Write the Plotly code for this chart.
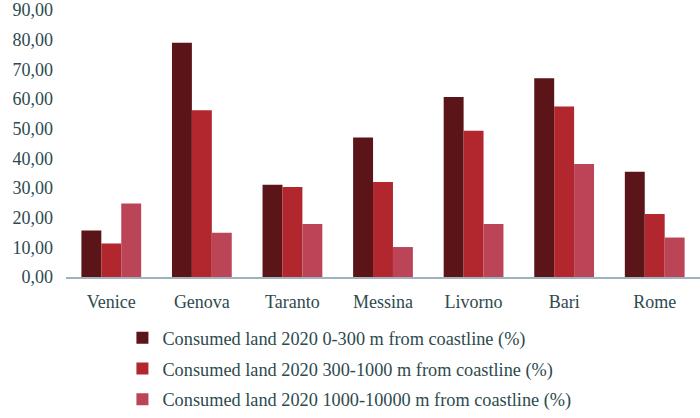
import plotly.graph_objects as go

# Coastal cities and share of consumed land by distance band from the coastline
cities = ["Venice", "Genova", "Taranto", "Messina", "Livorno", "Bari", "Rome"]
band_0_300 = [15.7, 79.0, 31.1, 47.0, 60.7, 67.0, 35.5]
band_300_1000 = [11.3, 56.2, 30.3, 32.0, 49.3, 57.5, 21.2]
band_1000_10000 = [24.8, 14.9, 17.9, 10.1, 17.9, 38.1, 13.3]

series_names = [
    "Consumed land 2020 0-300 m from coastline (%)",
    "Consumed land 2020 300-1000 m from coastline (%)",
    "Consumed land 2020 1000-10000 m from coastline (%)",
]
series_values = [band_0_300, band_300_1000, band_1000_10000]
series_colors = ["#5b1418", "#b2262d", "#bb4456"]

y_ticks = [0, 10, 20, 30, 40, 50, 60, 70, 80, 90]

text_color = "#2d4a4e"
serif = "Liberation Serif, Times New Roman, serif"

# one legend box per series so the rows can be spaced evenly
legend_ids = ["legend", "legend2", "legend3"]
legend_rows_y = [-0.228, -0.343, -0.458]

fig = go.Figure()
for name, vals, color, lid in zip(series_names, series_values, series_colors, legend_ids):
    fig.add_trace(go.Bar(
        x=cities, y=vals, name=name, legend=lid,
        marker=dict(color=color, line=dict(width=0)),
    ))

legend_style = dict(
    x=0.089,
    xanchor="left",
    yanchor="middle",
    font=dict(family=serif, size=18.3, color=text_color),
    itemwidth=30,
    bgcolor="rgba(0,0,0,0)",
)

fig.update_layout(
    width=700,
    height=418,
    barmode="group",
    bargap=0.34,
    bargroupgap=0,
    separators=",.",
    paper_bgcolor="white",
    plot_bgcolor="white",
    margin=dict(l=66, r=0, t=8, b=141),
    font=dict(family=serif, color=text_color, size=18),
    showlegend=True,
    legend=dict(y=legend_rows_y[0], **legend_style),
    legend2=dict(y=legend_rows_y[1], **legend_style),
    legend3=dict(y=legend_rows_y[2], **legend_style),
)

fig.update_xaxes(
    range=[-0.5, 6.5],
    showline=True,
    linecolor="#9fb2be",
    linewidth=1.5,
    showgrid=False,
    ticks="",
    ticklabelstandoff=8,
    tickfont=dict(family=serif, size=18, color=text_color),
)
fig.update_yaxes(
    range=[0, 90],
    tickvals=y_ticks,
    tickformat=".2f",
    showline=False,
    showgrid=False,
    zeroline=False,
    ticks="",
    ticklabelstandoff=12,
    ticklabeloverflow="allow",
    tickfont=dict(family=serif, size=18, color=text_color),
)

fig.write_html("out.html")
